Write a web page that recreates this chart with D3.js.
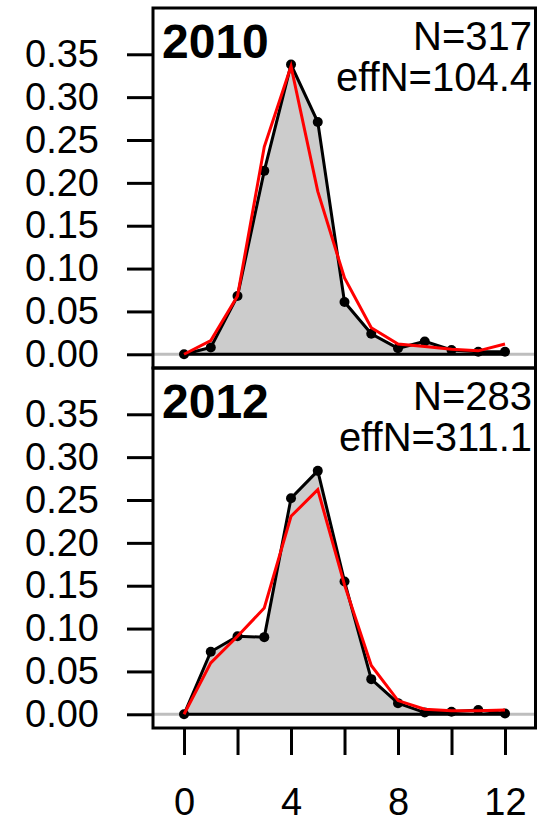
<!DOCTYPE html>
<html>
<head>
<meta charset="utf-8">
<script src="https://cdn.jsdelivr.net/npm/d3@7"></script>
<style>
  body { margin: 0; background: #fff; }
  svg { display: block; }
</style>
</head>
<body>
<script>
// age bins and proportions
var ages = [0, 1, 2, 3, 4, 5, 6, 7, 8, 9, 10, 11, 12];
var years = ['2010', '2012'];
var sampleN = [317, 283];
var effN = ['104.4', '311.1'];
var obs2010 = [0.000, 0.008, 0.068, 0.214, 0.338, 0.271, 0.061, 0.024, 0.007, 0.015, 0.005, 0.003, 0.003];
var exp2010 = [0.000, 0.016, 0.068, 0.242, 0.336, 0.190, 0.089, 0.031, 0.012, 0.009, 0.006, 0.004, 0.012];
var obs2012 = [0.000, 0.073, 0.091, 0.090, 0.252, 0.284, 0.155, 0.041, 0.013, 0.002, 0.003, 0.005, 0.001];
var exp2012 = [0.000, 0.060, 0.091, 0.124, 0.231, 0.262, 0.151, 0.057, 0.016, 0.006, 0.004, 0.004, 0.005];
var yTicks = [0, 0.05, 0.10, 0.15, 0.20, 0.25, 0.30, 0.35];
var xTicks = [0, 2, 4, 6, 8, 10, 12];
var xLabels = [0, 4, 8, 12];

var panels = [
  { year: years[0], n: sampleN[0], effN: effN[0], obs: obs2010, exp: exp2010 },
  { year: years[1], n: sampleN[1], effN: effN[1], obs: obs2012, exp: exp2012 }
];

var width = 539, height = 824;
var left = 153, right = 535.5;
var panelTops = [8, 368], panelH = 360;
var font = '"Liberation Sans", Arial, sans-serif';
var lw = 3;

var svg = d3.select('body').append('svg')
  .attr('width', width).attr('height', height)
  .style('font-family', font);

var x = d3.scaleLinear().domain([-1.16, 13.14]).range([left, right]);

panels.forEach(function (p, i) {
  var top = panelTops[i], bottom = top + panelH;
  var y = d3.scaleLinear().domain([-0.016, 0.404]).range([bottom, top]);
  var g = svg.append('g');

  // zero reference line
  g.append('line')
    .attr('x1', left).attr('x2', right)
    .attr('y1', y(0)).attr('y2', y(0))
    .attr('stroke', '#bebebe').attr('stroke-width', lw);

  var rows = ages.map(function (a, k) { return { a: a, o: p.obs[k], e: p.exp[k] }; });

  g.append('path').datum(rows)
    .attr('d', d3.area().x(function (d) { return x(d.a); }).y0(y(0)).y1(function (d) { return y(d.o); }))
    .attr('fill', '#cccccc');

  g.append('line')
    .attr('x1', x(0)).attr('x2', x(12))
    .attr('y1', y(0)).attr('y2', y(0))
    .attr('stroke', '#000').attr('stroke-width', lw);

  g.append('path').datum(rows)
    .attr('d', d3.line().x(function (d) { return x(d.a); }).y(function (d) { return y(d.o); }))
    .attr('fill', 'none').attr('stroke', '#000').attr('stroke-width', lw);

  g.selectAll('circle').data(rows).enter().append('circle')
    .attr('cx', function (d) { return x(d.a); })
    .attr('cy', function (d) { return y(d.o); })
    .attr('r', 5).attr('fill', '#000');

  g.append('path').datum(rows)
    .attr('d', d3.line().x(function (d) { return x(d.a); }).y(function (d) { return y(d.e); }))
    .attr('fill', 'none').attr('stroke', '#ff0000').attr('stroke-width', lw);

  // frame
  g.append('rect')
    .attr('x', left).attr('y', top).attr('width', right - left).attr('height', panelH)
    .attr('fill', 'none').attr('stroke', '#000').attr('stroke-width', lw);

  // y axis
  var ax = g.append('g').attr('transform', 'translate(' + left + ',0)')
    .call(d3.axisLeft(y).tickValues(yTicks).tickFormat(d3.format('.2f')).tickSize(26).tickPadding(28));
  ax.select('.domain').remove();
  ax.selectAll('line').attr('stroke-width', lw);
  ax.selectAll('text').attr('font-size', 38).attr('font-family', font).attr('fill', '#000');

  // labels
  g.append('text').attr('x', 162).attr('y', top + 50)
    .attr('font-size', 48).attr('font-weight', 'bold').text(p.year);
  g.append('text').attr('x', 532).attr('y', top + 42).attr('text-anchor', 'end')
    .attr('font-size', 40).text('N=' + p.n);
  g.append('text').attr('x', 532).attr('y', top + 83).attr('text-anchor', 'end')
    .attr('font-size', 40).text('effN=' + p.effN);
});

// x axis under the bottom panel
var xa = svg.append('g').attr('transform', 'translate(0,' + (panelTops[1] + panelH) + ')')
  .call(d3.axisBottom(x).tickValues(xTicks)
    .tickFormat(function (d) { return xLabels.indexOf(d) >= 0 ? d : ''; })
    .tickSize(27).tickPadding(33));
xa.select('.domain').remove();
xa.selectAll('line').attr('stroke-width', lw);
xa.selectAll('text').attr('font-size', 38).attr('font-family', font).attr('fill', '#000');
</script>
</body>
</html>
